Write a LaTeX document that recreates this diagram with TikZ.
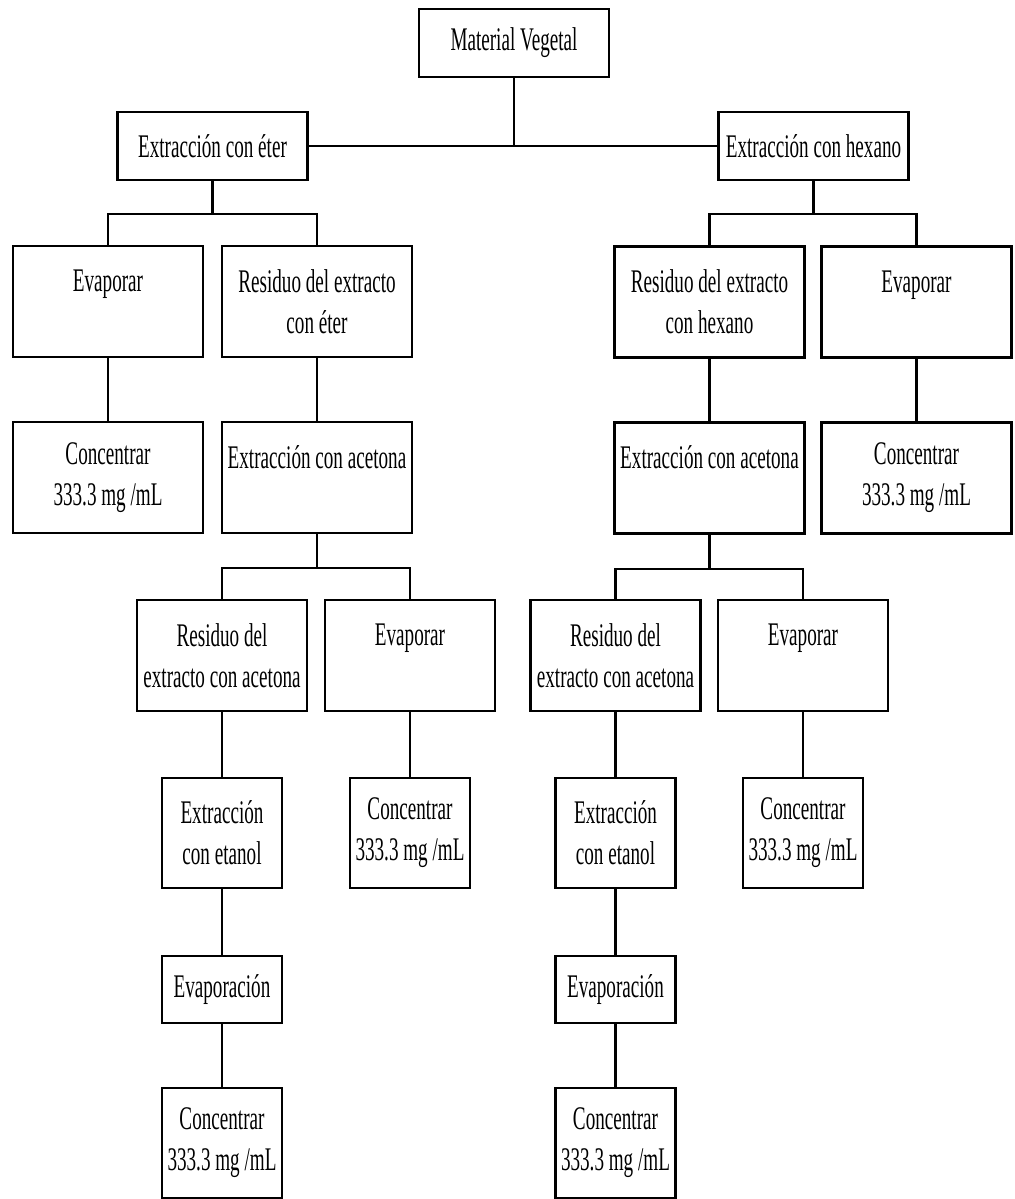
\documentclass[tikz,border=0pt]{standalone}
\usepackage{fontspec}
\setmainfont{Liberation Serif}[FakeStretch=0.58]

\begin{document}
\begin{tikzpicture}[x=0.5pt, y=-0.5pt, line width=1.2pt,
        caja/.style={draw, line width=1.2pt, align=center, inner sep=0pt, font=\fontsize{16.5}{20.5}\selectfont},
        arriba/.style={caja, minimum width=95pt, minimum height=34pt},
        grande/.style={caja, minimum width=95pt, minimum height=55.5pt},
        media/.style={caja, minimum width=85pt, minimum height=55.5pt},
        chica/.style={caja, minimum width=60pt, minimum height=55pt},
        plana/.style={caja, minimum width=60pt, minimum height=33.5pt}]
            \useasboundingbox (0,0) rectangle (1015,1199); %okraj

            %material y primeras extracciones
            \node[arriba] (mv) at (514,43) {Material Vegetal};
            \node[arriba] (eter) at (212.5,146) {Extracción con éter};
            \node[arriba] (hexano) at (813.5,146) {Extracción con hexano};
            \draw (mv.south) -- (mv.south |- eter.east);
            \draw (eter.east) -- (hexano.west);

            %rama eter
            \node[grande] (evapL) at (108,301.5) {Evaporar\\~};
            \node[grande] (resEter) at (317,301.5) {Residuo del extracto\\con éter};
            \node[grande] (concL) at (108,477.5) {Concentrar\\333.3 mg /mL};
            \node[grande] (acetL) at (317,477.5) {Extracción con acetona\\~};
            \node[media] (resAcL) at (222,655.5) {Residuo del\\extracto con acetona};
            \node[media] (evapL2) at (410,655.5) {Evaporar\\~};
            \node[chica] (etanolL) at (222,833) {Extracción\\con etanol};
            \node[chica] (concL2) at (410,833) {Concentrar\\333.3 mg /mL};
            \node[plana] (evpnL) at (222,989.5) {Evaporación};
            \node[chica] (concL3) at (222,1143) {Concentrar\\333.3 mg /mL};

            %rama hexano
            \node[grande] (resHex) at (709.5,302) {Residuo del extracto\\con hexano};
            \node[grande] (evapR) at (916.5,302) {Evaporar\\~};
            \node[grande] (acetR) at (709.5,478) {Extracción con acetona\\~};
            \node[grande] (concR) at (916.5,478) {Concentrar\\333.3 mg /mL};
            \node[media] (resAcR) at (615.5,655.5) {Residuo del\\extracto con acetona};
            \node[media] (evapR2) at (803,655.5) {Evaporar\\~};
            \node[chica] (etanolR) at (615.5,833) {Extracción\\con etanol};
            \node[chica] (concR2) at (803,833) {Concentrar\\333.3 mg /mL};
            \node[plana] (evpnR) at (615.5,989.5) {Evaporación};
            \node[chica] (concR3) at (615.5,1143) {Concentrar\\333.3 mg /mL};

            %rozvetvenia
            \draw (eter.south) -- ++(0,33) coordinate (bEter);
            \draw (evapL.north) |- (bEter) -| (resEter.north);
            \draw (hexano.south) -- ++(0,33) coordinate (bHex);
            \draw (resHex.north) |- (bHex) -| (evapR.north);
            \draw (acetL.south) -- ++(0,34) coordinate (bAcetL);
            \draw (resAcL.north) |- (bAcetL) -| (evapL2.north);
            \draw (acetR.south) -- ++(0,34) coordinate (bAcetR);
            \draw (resAcR.north) |- (bAcetR) -| (evapR2.north);

            %spojenia vlavo
            \draw (evapL.south) -- (concL.north);
            \draw (resEter.south) -- (acetL.north);
            \draw (resAcL.south) -- (etanolL.north);
            \draw (evapL2.south) -- (concL2.north);
            \draw (etanolL.south) -- (evpnL.north);
            \draw (evpnL.south) -- (concL3.north);

            %spojenia vpravo
            \draw (resHex.south) -- (acetR.north);
            \draw (evapR.south) -- (concR.north);
            \draw (resAcR.south) -- (etanolR.north);
            \draw (evapR2.south) -- (concR2.north);
            \draw (etanolR.south) -- (evpnR.north);
            \draw (evpnR.south) -- (concR3.north);
        \end{tikzpicture}
\end{document}
